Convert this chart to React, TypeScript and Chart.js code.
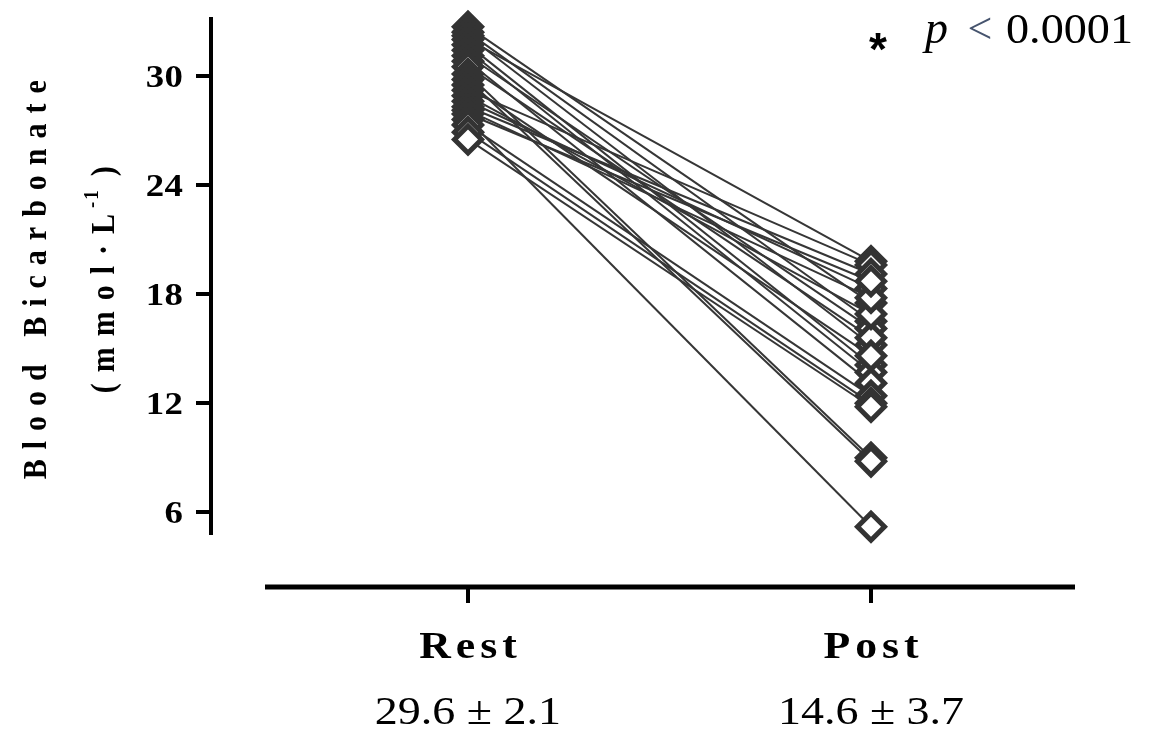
import { useEffect, useRef } from 'react';
import { Chart, registerables } from 'chart.js';

Chart.register(...registerables);

// ---- data ----
const categories = ['Rest', 'Post'];
const summaries = ['29.6 ± 2.1', '14.6 ± 3.7'];
const restValues = [32.7, 32.4, 32.2, 32.0, 31.7, 31.4, 31.1, 30.8, 30.5, 30.1, 29.8, 29.5, 29.2, 28.9, 28.6, 28.3, 28.1, 27.9, 27.6, 27.3, 26.9, 26.5];
const postValues = [17.5, 16.5, 15.2, 19.8, 14.1, 13.7, 16.1, 13.1, 15.6, 9.0, 8.8, 14.6, 19.6, 16.9, 18.3, 19.1, 17.8, 18.7, 5.2, 12.4, 12.0, 11.8];
const yTicks = [6, 12, 18, 24, 30];
const yTitle = 'Blood Bicarbonate';
const yUnitMain = '(mmol·L';
const yUnitSup = '-1';
const yUnitEnd = ')';
const pText = 'p';
const ltText = '<';
const pValue = '0.0001';

const SERIF = '"Liberation Serif", "Times New Roman", serif';

// draws text char by char with extra spacing; sx stretches horizontally (text direction)
function drawSpaced(
  ctx: CanvasRenderingContext2D,
  text: string,
  x: number,
  y: number,
  spacing: number,
  align: 'left' | 'center' | 'right',
  sx = 1,
  sy = 1
) {
  const chars = Array.from(text);
  const widths = chars.map((c) => ctx.measureText(c).width * sx);
  const total = widths.reduce((a, b) => a + b, 0) + spacing * (chars.length - 1);
  let cx = align === 'center' ? x - total / 2 : align === 'right' ? x - total : x;
  ctx.textAlign = 'left';
  chars.forEach((c, i) => {
    ctx.save();
    ctx.translate(cx, y);
    ctx.scale(sx, sy);
    ctx.fillText(c, 0, 0);
    ctx.restore();
    cx += widths[i] + spacing;
  });
  return total;
}

function measureSpaced(ctx: CanvasRenderingContext2D, text: string, spacing: number, sx = 1) {
  const chars = Array.from(text);
  return chars.reduce((a, c) => a + ctx.measureText(c).width * sx, 0) + spacing * (chars.length - 1);
}

const prismPlugin = {
  id: 'prismDecor',
  afterDraw(chart: any) {
    const ctx: CanvasRenderingContext2D = chart.ctx;
    const xs = chart.scales.x;
    const ys = chart.scales.y;
    const area = chart.chartArea;
    ctx.save();
    ctx.fillStyle = '#000';
    ctx.textBaseline = 'alphabetic';

    // y tick labels
    ctx.font = `bold 32px ${SERIF}`;
    yTicks.forEach((v) => {
      const py = ys.getPixelForValue(v);
      drawSpaced(ctx, String(v), 183, py + 10.8, 0.5, 'right', 1.15);
    });

    const midY = (area.top + area.bottom) / 2 + 4;
    const titleFont = 30;
    const stretch = 1.15;
    const capHalf = (0.662 * titleFont) / 2;

    // y title (rotated)
    ctx.save();
    ctx.translate(35, midY);
    ctx.rotate(-Math.PI / 2);
    ctx.font = `bold ${titleFont}px ${SERIF}`;
    drawSpaced(ctx, yTitle, 0, capHalf * stretch, 10, 'center', 1, stretch);
    ctx.restore();

    // y unit line (rotated)
    ctx.save();
    ctx.translate(103, midY);
    ctx.rotate(-Math.PI / 2);
    ctx.font = `bold ${titleFont}px ${SERIF}`;
    const wMain = measureSpaced(ctx, yUnitMain, 11);
    ctx.font = `bold 19px ${SERIF}`;
    const wSup = measureSpaced(ctx, yUnitSup, 2);
    ctx.font = `bold ${titleFont}px ${SERIF}`;
    const wEnd = measureSpaced(ctx, yUnitEnd, 0);
    const gap1 = 6;
    const gap2 = 14;
    const total = wMain + gap1 + wSup + gap2 + wEnd;
    let ux = -total / 2;
    const base = capHalf * stretch;
    drawSpaced(ctx, yUnitMain, ux, base, 11, 'left', 1, stretch);
    ux += wMain + gap1;
    ctx.font = `bold 19px ${SERIF}`;
    drawSpaced(ctx, yUnitSup, ux, base - 16, 2, 'left', 1, stretch);
    ux += wSup + gap2;
    ctx.font = `bold ${titleFont}px ${SERIF}`;
    drawSpaced(ctx, yUnitEnd, ux, base, 0, 'left', 1, stretch);
    ctx.restore();

    // x axis (offset, Prism style)
    const axisY = 587;
    ctx.strokeStyle = '#000';
    ctx.lineCap = 'butt';
    ctx.lineWidth = 5;
    ctx.beginPath();
    ctx.moveTo(265, axisY);
    ctx.lineTo(area.right, axisY);
    ctx.stroke();
    ctx.lineWidth = 4;
    categories.forEach((_, i) => {
      const px = Math.round(xs.getPixelForValue(i));
      ctx.beginPath();
      ctx.moveTo(px, axisY);
      ctx.lineTo(px, 603);
      ctx.stroke();
    });

    // category labels + summaries
    categories.forEach((c, i) => {
      const px = xs.getPixelForValue(i);
      ctx.font = `bold 38px ${SERIF}`;
      drawSpaced(ctx, c, px, 658, 5, 'center', 1.15);
      ctx.font = `40px ${SERIF}`;
      drawSpaced(ctx, summaries[i], px, 724, 0, 'center', 1.15);
    });

    // significance annotation
    ctx.font = 'bold 46px "Liberation Sans", Arial, sans-serif';
    ctx.textAlign = 'center';
    ctx.fillText('*', 878, 65);
    ctx.font = `italic 46px ${SERIF}`;
    ctx.textAlign = 'left';
    ctx.fillText(pText, 925, 43);
    ctx.fillStyle = '#46546e';
    ctx.font = `44px ${SERIF}`;
    ctx.textAlign = 'center';
    ctx.fillText(ltText, 980, 43);
    ctx.fillStyle = '#000';
    ctx.font = `42px ${SERIF}`;
    drawSpaced(ctx, pValue, 1006, 43, 0, 'left', 1.1);

    ctx.restore();
  },
};

export default function App() {
  const ref = useRef<HTMLCanvasElement>(null);

  useEffect(() => {
    const canvas = ref.current;
    if (!canvas) return;

    const lineSets = restValues.map((r, i) => ({
      type: 'scatter' as const,
      data: [
        { x: 0, y: r },
        { x: 1, y: postValues[i] },
      ],
      showLine: true,
      borderColor: '#363636',
      borderWidth: 2,
      pointRadius: 0,
      order: 2,
      clip: false as const,
    }));

    const markerData: { x: number; y: number }[] = [];
    restValues.forEach((r, i) => {
      markerData.push({ x: 0, y: r });
      markerData.push({ x: 1, y: postValues[i] });
    });

    const markerSet = {
      type: 'scatter' as const,
      data: markerData,
      showLine: false,
      pointStyle: 'rectRot' as const,
      pointRadius: 13.5,
      pointBorderWidth: 5,
      pointBackgroundColor: '#ffffff',
      pointBorderColor: '#333333',
      order: 1,
      clip: false as const,
    };

    const chart = new Chart(canvas, {
      type: 'scatter',
      data: { datasets: [...lineSets, markerSet] as any },
      options: {
        animation: false,
        responsive: true,
        maintainAspectRatio: false,
        layout: { padding: { left: 0, right: 85, top: 12, bottom: 198 } },
        plugins: {
          legend: { display: false },
          tooltip: { enabled: false },
        },
        scales: {
          x: {
            type: 'linear',
            display: false,
            min: -0.6377,
            max: 1.5062,
          },
          y: {
            type: 'linear',
            position: 'left',
            min: 4.86,
            max: 33.15,
            afterBuildTicks: (scale: any) => {
              scale.ticks = yTicks.map((v) => ({ value: v }));
            },
            afterFit: (scale: any) => {
              scale.width = 211;
            },
            ticks: { display: false },
            grid: {
              drawOnChartArea: false,
              drawTicks: true,
              tickLength: 15,
              tickWidth: 4,
              tickColor: '#000',
              lineWidth: 4,
              color: '#000',
            },
            border: { display: true, color: '#000', width: 4 },
          },
        },
      },
      plugins: [prismPlugin],
    });

    return () => chart.destroy();
  }, []);

  return (
    <div style={{ position: 'absolute', left: 0, top: 0, width: 1160, height: 731, background: '#ffffff' }}>
      <canvas ref={ref} />
    </div>
  );
}
